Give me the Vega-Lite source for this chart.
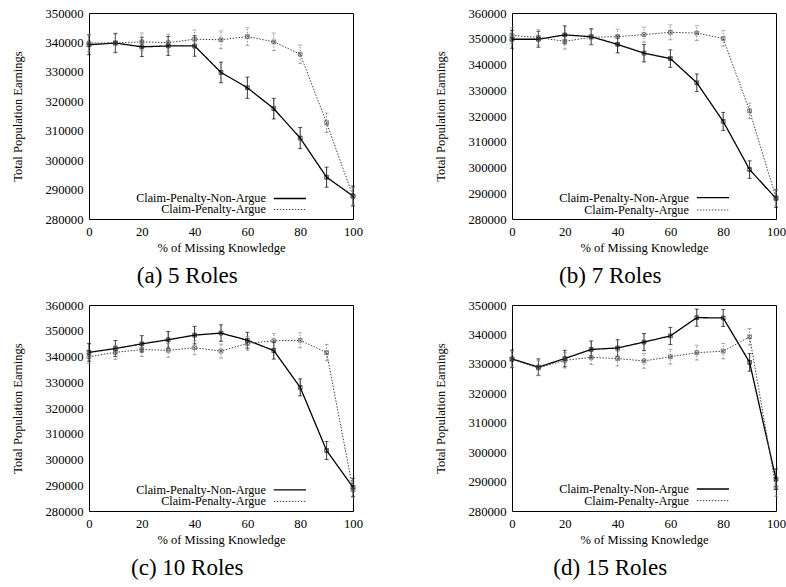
{
  "$schema": "https://vega.github.io/schema/vega-lite/v6.json",
  "padding": {"left": 11, "top": 6, "right": 0, "bottom": 0},
  "background": "white",
  "columns": 2,
  "spacing": {"row": 9, "column": 70},
  "datasets": {
    "a": [
      {"x":0,"y":339200,"lo":335800,"hi":342600,"s":"Non-Argue"},
      {"x":10,"y":339800,"lo":336500,"hi":343100,"s":"Non-Argue"},
      {"x":20,"y":338500,"lo":335200,"hi":341800,"s":"Non-Argue"},
      {"x":30,"y":338800,"lo":335600,"hi":342000,"s":"Non-Argue"},
      {"x":40,"y":338800,"lo":335300,"hi":342300,"s":"Non-Argue"},
      {"x":50,"y":329800,"lo":326300,"hi":333300,"s":"Non-Argue"},
      {"x":60,"y":324600,"lo":321000,"hi":328200,"s":"Non-Argue"},
      {"x":70,"y":317500,"lo":314000,"hi":321000,"s":"Non-Argue"},
      {"x":80,"y":307500,"lo":303900,"hi":311100,"s":"Non-Argue"},
      {"x":90,"y":294200,"lo":290800,"hi":297600,"s":"Non-Argue"},
      {"x":100,"y":287800,"lo":284400,"hi":291200,"s":"Non-Argue"},
      {"x":0,"y":339800,"lo":336900,"hi":342700,"s":"Argue"},
      {"x":10,"y":339800,"lo":336800,"hi":342800,"s":"Argue"},
      {"x":20,"y":340200,"lo":337200,"hi":343200,"s":"Argue"},
      {"x":30,"y":339900,"lo":337000,"hi":342800,"s":"Argue"},
      {"x":40,"y":341100,"lo":338000,"hi":344200,"s":"Argue"},
      {"x":50,"y":340900,"lo":337900,"hi":343900,"s":"Argue"},
      {"x":60,"y":342000,"lo":339000,"hi":345000,"s":"Argue"},
      {"x":70,"y":340200,"lo":337200,"hi":343200,"s":"Argue"},
      {"x":80,"y":336000,"lo":332900,"hi":339100,"s":"Argue"},
      {"x":90,"y":312700,"lo":309400,"hi":316000,"s":"Argue"},
      {"x":100,"y":287700,"lo":284800,"hi":290600,"s":"Argue"}
    ],
    "b": [
      {"x":0,"y":349800,"lo":346300,"hi":353300,"s":"Non-Argue"},
      {"x":10,"y":349800,"lo":346700,"hi":352900,"s":"Non-Argue"},
      {"x":20,"y":351500,"lo":348000,"hi":355000,"s":"Non-Argue"},
      {"x":30,"y":350800,"lo":347700,"hi":353900,"s":"Non-Argue"},
      {"x":40,"y":347800,"lo":344500,"hi":351100,"s":"Non-Argue"},
      {"x":50,"y":344400,"lo":341000,"hi":347800,"s":"Non-Argue"},
      {"x":60,"y":342300,"lo":338900,"hi":345700,"s":"Non-Argue"},
      {"x":70,"y":332900,"lo":329500,"hi":336300,"s":"Non-Argue"},
      {"x":80,"y":317900,"lo":314400,"hi":321400,"s":"Non-Argue"},
      {"x":90,"y":299200,"lo":295800,"hi":302600,"s":"Non-Argue"},
      {"x":100,"y":288000,"lo":284500,"hi":291500,"s":"Non-Argue"},
      {"x":0,"y":351300,"lo":348300,"hi":354300,"s":"Argue"},
      {"x":10,"y":350500,"lo":347500,"hi":353500,"s":"Argue"},
      {"x":20,"y":349000,"lo":346000,"hi":352000,"s":"Argue"},
      {"x":30,"y":350600,"lo":347700,"hi":353500,"s":"Argue"},
      {"x":40,"y":350800,"lo":347900,"hi":353700,"s":"Argue"},
      {"x":50,"y":351600,"lo":348700,"hi":354500,"s":"Argue"},
      {"x":60,"y":352500,"lo":349600,"hi":355400,"s":"Argue"},
      {"x":70,"y":352200,"lo":349300,"hi":355100,"s":"Argue"},
      {"x":80,"y":350100,"lo":347100,"hi":353100,"s":"Argue"},
      {"x":90,"y":322000,"lo":319000,"hi":325000,"s":"Argue"},
      {"x":100,"y":288300,"lo":285300,"hi":291300,"s":"Argue"}
    ],
    "c": [
      {"x":0,"y":341600,"lo":338200,"hi":345000,"s":"Non-Argue"},
      {"x":10,"y":343100,"lo":340000,"hi":346200,"s":"Non-Argue"},
      {"x":20,"y":344900,"lo":341700,"hi":348100,"s":"Non-Argue"},
      {"x":30,"y":346500,"lo":343300,"hi":349700,"s":"Non-Argue"},
      {"x":40,"y":348300,"lo":344900,"hi":351700,"s":"Non-Argue"},
      {"x":50,"y":349100,"lo":345900,"hi":352300,"s":"Non-Argue"},
      {"x":60,"y":346300,"lo":343200,"hi":349400,"s":"Non-Argue"},
      {"x":70,"y":342300,"lo":339000,"hi":345600,"s":"Non-Argue"},
      {"x":80,"y":328000,"lo":324700,"hi":331300,"s":"Non-Argue"},
      {"x":90,"y":303500,"lo":300000,"hi":307000,"s":"Non-Argue"},
      {"x":100,"y":289200,"lo":285700,"hi":292700,"s":"Non-Argue"},
      {"x":0,"y":339900,"lo":337300,"hi":342500,"s":"Argue"},
      {"x":10,"y":341600,"lo":338900,"hi":344300,"s":"Argue"},
      {"x":20,"y":342700,"lo":340000,"hi":345400,"s":"Argue"},
      {"x":30,"y":342400,"lo":339700,"hi":345100,"s":"Argue"},
      {"x":40,"y":343400,"lo":340700,"hi":346100,"s":"Argue"},
      {"x":50,"y":342100,"lo":339400,"hi":344800,"s":"Argue"},
      {"x":60,"y":345100,"lo":342400,"hi":347800,"s":"Argue"},
      {"x":70,"y":346100,"lo":343300,"hi":348900,"s":"Argue"},
      {"x":80,"y":346300,"lo":343400,"hi":349200,"s":"Argue"},
      {"x":90,"y":341500,"lo":338300,"hi":344700,"s":"Argue"},
      {"x":100,"y":288300,"lo":285300,"hi":291300,"s":"Argue"}
    ],
    "d": [
      {"x":0,"y":331700,"lo":328700,"hi":334700,"s":"Non-Argue"},
      {"x":10,"y":328900,"lo":326100,"hi":331700,"s":"Non-Argue"},
      {"x":20,"y":331800,"lo":329000,"hi":334600,"s":"Non-Argue"},
      {"x":30,"y":334900,"lo":332000,"hi":337800,"s":"Non-Argue"},
      {"x":40,"y":335400,"lo":332600,"hi":338200,"s":"Non-Argue"},
      {"x":50,"y":337400,"lo":334500,"hi":340300,"s":"Non-Argue"},
      {"x":60,"y":339500,"lo":336600,"hi":342400,"s":"Non-Argue"},
      {"x":70,"y":345700,"lo":342800,"hi":348600,"s":"Non-Argue"},
      {"x":80,"y":345600,"lo":342700,"hi":348500,"s":"Non-Argue"},
      {"x":90,"y":330500,"lo":327500,"hi":333500,"s":"Non-Argue"},
      {"x":100,"y":290800,"lo":287300,"hi":294300,"s":"Non-Argue"},
      {"x":0,"y":331500,"lo":328900,"hi":334100,"s":"Argue"},
      {"x":10,"y":328600,"lo":326000,"hi":331200,"s":"Argue"},
      {"x":20,"y":331200,"lo":328600,"hi":333800,"s":"Argue"},
      {"x":30,"y":332200,"lo":329800,"hi":334600,"s":"Argue"},
      {"x":40,"y":331800,"lo":329300,"hi":334300,"s":"Argue"},
      {"x":50,"y":331000,"lo":328500,"hi":333500,"s":"Argue"},
      {"x":60,"y":332400,"lo":329900,"hi":334900,"s":"Argue"},
      {"x":70,"y":333800,"lo":331300,"hi":336300,"s":"Argue"},
      {"x":80,"y":334300,"lo":331700,"hi":336900,"s":"Argue"},
      {"x":90,"y":339200,"lo":336400,"hi":342000,"s":"Argue"},
      {"x":100,"y":287900,"lo":285000,"hi":290800,"s":"Argue"}
    ]
  },
  "concat": [
    {
      "width": 264, "height": 206,
      "title": {"text": "(a) 5 Roles", "orient": "bottom", "anchor": "middle", "frame": "bounds", "offset": 11},
      "encoding": {
        "x": {"type": "quantitative", "scale": {"domain": [0, 100], "nice": false}, "axis": {"title": "% of Missing Knowledge", "values": [0,20,40,60,80,100], "labelFlush": false}},
        "y": {"type": "quantitative", "scale": {"domain": [280000, 350000], "nice": false, "zero": false}, "axis": {"title": "Total Population Earnings", "values": [280000,290000,300000,310000,320000,330000,340000,350000], "format": "d"}}
      },
      "layer": [
        {"data": {"values": [{}]}, "mark": {"type": "rect", "fill": "white"}, "encoding": {"x": {"datum": 3.4}, "x2": {"datum": 85}, "y": {"datum": 280300}, "y2": {"datum": 289400}}},
        {"data": {"values": [{}]}, "mark": {"type": "text", "align": "right", "baseline": "middle", "fontSize": 12.2, "font": "Liberation Serif, Times New Roman, Times, serif", "color": "black", "text": "Claim-Penalty-Non-Argue"}, "encoding": {"x": {"datum": 67}, "y": {"datum": 286970}}},
        {"data": {"values": [{}]}, "mark": {"type": "text", "align": "right", "baseline": "middle", "fontSize": 12.2, "font": "Liberation Serif, Times New Roman, Times, serif", "color": "black", "text": "Claim-Penalty-Argue"}, "encoding": {"x": {"datum": 67}, "y": {"datum": 283230}}},
        {"data": {"values": [{}]}, "mark": {"type": "rule", "color": "black", "strokeWidth": 1.3}, "encoding": {"x": {"datum": 70}, "x2": {"datum": 82.2}, "y": {"datum": 286970}}},
        {"data": {"values": [{}]}, "mark": {"type": "rule", "color": "#444", "strokeWidth": 1, "strokeDash": [1.5, 1.5]}, "encoding": {"x": {"datum": 70}, "x2": {"datum": 82.2}, "y": {"datum": 283230}}},
        {"data": {"name": "a"}, "layer": [
          {"mark": {"type": "rule", "strokeWidth": 1}, "encoding": {"x": {"field": "x"}, "y": {"field": "lo"}, "y2": {"field": "hi"}, "color": {"field": "s", "type": "nominal", "scale": {"domain": ["Non-Argue", "Argue"], "range": ["#111111", "#888888"]}, "legend": null}, "strokeDash": {"field": "s", "type": "nominal", "scale": {"domain": ["Non-Argue", "Argue"], "range": [[1, 0], [1.5, 1.5]]}, "legend": null}}},
          {"mark": {"type": "tick", "orient": "horizontal", "size": 4, "thickness": 1}, "encoding": {"x": {"field": "x"}, "y": {"field": "lo"}, "color": {"field": "s", "type": "nominal", "legend": null}}},
          {"mark": {"type": "tick", "orient": "horizontal", "size": 4, "thickness": 1}, "encoding": {"x": {"field": "x"}, "y": {"field": "hi"}, "color": {"field": "s", "type": "nominal", "legend": null}}},
          {"mark": {"type": "line"}, "encoding": {"x": {"field": "x"}, "y": {"field": "y"}, "detail": {"field": "s"}, "strokeDash": {"field": "s", "type": "nominal", "legend": null}, "strokeWidth": {"field": "s", "type": "nominal", "scale": {"domain": ["Non-Argue", "Argue"], "range": [1.3, 1]}, "legend": null}, "stroke": {"field": "s", "type": "nominal", "scale": {"domain": ["Non-Argue", "Argue"], "range": ["#000000", "#444444"]}, "legend": null}}},
          {"mark": {"type": "point", "shape": "M-1,-1H1V1H-1ZM-1,-1L1,1M-1,1L1,-1", "size": 14, "strokeWidth": 0.9, "filled": false}, "encoding": {"x": {"field": "x"}, "y": {"field": "y"}, "stroke": {"field": "s", "type": "nominal", "legend": null}}}
        ]}
      ]
    },
    {
      "width": 264, "height": 206,
      "title": {"text": "(b) 7 Roles", "orient": "bottom", "anchor": "middle", "frame": "bounds", "offset": 11},
      "encoding": {
        "x": {"type": "quantitative", "scale": {"domain": [0, 100], "nice": false}, "axis": {"title": "% of Missing Knowledge", "values": [0,20,40,60,80,100], "labelFlush": false}},
        "y": {"type": "quantitative", "scale": {"domain": [280000, 360000], "nice": false, "zero": false}, "axis": {"title": "Total Population Earnings", "values": [280000,290000,300000,310000,320000,330000,340000,350000,360000], "format": "d"}}
      },
      "layer": [
        {"data": {"values": [{}]}, "mark": {"type": "rect", "fill": "white"}, "encoding": {"x": {"datum": 3.4}, "x2": {"datum": 85}, "y": {"datum": 280350}, "y2": {"datum": 290700}}},
        {"data": {"values": [{}]}, "mark": {"type": "text", "align": "right", "baseline": "middle", "fontSize": 12.2, "font": "Liberation Serif, Times New Roman, Times, serif", "color": "black", "text": "Claim-Penalty-Non-Argue"}, "encoding": {"x": {"datum": 67}, "y": {"datum": 288280}}},
        {"data": {"values": [{}]}, "mark": {"type": "text", "align": "right", "baseline": "middle", "fontSize": 12.2, "font": "Liberation Serif, Times New Roman, Times, serif", "color": "black", "text": "Claim-Penalty-Argue"}, "encoding": {"x": {"datum": 67}, "y": {"datum": 283500}}},
        {"data": {"values": [{}]}, "mark": {"type": "rule", "color": "black", "strokeWidth": 1.3}, "encoding": {"x": {"datum": 70}, "x2": {"datum": 82.2}, "y": {"datum": 288280}}},
        {"data": {"values": [{}]}, "mark": {"type": "rule", "color": "#444", "strokeWidth": 1, "strokeDash": [1.5, 1.5]}, "encoding": {"x": {"datum": 70}, "x2": {"datum": 82.2}, "y": {"datum": 283500}}},
        {"data": {"name": "b"}, "layer": [
          {"mark": {"type": "rule", "strokeWidth": 1}, "encoding": {"x": {"field": "x"}, "y": {"field": "lo"}, "y2": {"field": "hi"}, "color": {"field": "s", "type": "nominal", "scale": {"domain": ["Non-Argue", "Argue"], "range": ["#111111", "#888888"]}, "legend": null}, "strokeDash": {"field": "s", "type": "nominal", "scale": {"domain": ["Non-Argue", "Argue"], "range": [[1, 0], [1.5, 1.5]]}, "legend": null}}},
          {"mark": {"type": "tick", "orient": "horizontal", "size": 4, "thickness": 1}, "encoding": {"x": {"field": "x"}, "y": {"field": "lo"}, "color": {"field": "s", "type": "nominal", "legend": null}}},
          {"mark": {"type": "tick", "orient": "horizontal", "size": 4, "thickness": 1}, "encoding": {"x": {"field": "x"}, "y": {"field": "hi"}, "color": {"field": "s", "type": "nominal", "legend": null}}},
          {"mark": {"type": "line"}, "encoding": {"x": {"field": "x"}, "y": {"field": "y"}, "detail": {"field": "s"}, "strokeDash": {"field": "s", "type": "nominal", "legend": null}, "strokeWidth": {"field": "s", "type": "nominal", "scale": {"domain": ["Non-Argue", "Argue"], "range": [1.3, 1]}, "legend": null}, "stroke": {"field": "s", "type": "nominal", "scale": {"domain": ["Non-Argue", "Argue"], "range": ["#000000", "#444444"]}, "legend": null}}},
          {"mark": {"type": "point", "shape": "M-1,-1H1V1H-1ZM-1,-1L1,1M-1,1L1,-1", "size": 14, "strokeWidth": 0.9, "filled": false}, "encoding": {"x": {"field": "x"}, "y": {"field": "y"}, "stroke": {"field": "s", "type": "nominal", "legend": null}}}
        ]}
      ]
    },
    {
      "width": 264, "height": 206,
      "title": {"text": "(c) 10 Roles", "orient": "bottom", "anchor": "middle", "frame": "bounds", "offset": 11},
      "encoding": {
        "x": {"type": "quantitative", "scale": {"domain": [0, 100], "nice": false}, "axis": {"title": "% of Missing Knowledge", "values": [0,20,40,60,80,100], "labelFlush": false}},
        "y": {"type": "quantitative", "scale": {"domain": [280000, 360000], "nice": false, "zero": false}, "axis": {"title": "Total Population Earnings", "values": [280000,290000,300000,310000,320000,330000,340000,350000,360000], "format": "d"}}
      },
      "layer": [
        {"data": {"values": [{}]}, "mark": {"type": "rect", "fill": "white"}, "encoding": {"x": {"datum": 3.4}, "x2": {"datum": 85}, "y": {"datum": 280350}, "y2": {"datum": 290900}}},
        {"data": {"values": [{}]}, "mark": {"type": "text", "align": "right", "baseline": "middle", "fontSize": 12.2, "font": "Liberation Serif, Times New Roman, Times, serif", "color": "black", "text": "Claim-Penalty-Non-Argue"}, "encoding": {"x": {"datum": 67}, "y": {"datum": 288230}}},
        {"data": {"values": [{}]}, "mark": {"type": "text", "align": "right", "baseline": "middle", "fontSize": 12.2, "font": "Liberation Serif, Times New Roman, Times, serif", "color": "black", "text": "Claim-Penalty-Argue"}, "encoding": {"x": {"datum": 67}, "y": {"datum": 283740}}},
        {"data": {"values": [{}]}, "mark": {"type": "rule", "color": "black", "strokeWidth": 1.3}, "encoding": {"x": {"datum": 70}, "x2": {"datum": 82.2}, "y": {"datum": 288230}}},
        {"data": {"values": [{}]}, "mark": {"type": "rule", "color": "#444", "strokeWidth": 1, "strokeDash": [1.5, 1.5]}, "encoding": {"x": {"datum": 70}, "x2": {"datum": 82.2}, "y": {"datum": 283740}}},
        {"data": {"name": "c"}, "layer": [
          {"mark": {"type": "rule", "strokeWidth": 1}, "encoding": {"x": {"field": "x"}, "y": {"field": "lo"}, "y2": {"field": "hi"}, "color": {"field": "s", "type": "nominal", "scale": {"domain": ["Non-Argue", "Argue"], "range": ["#111111", "#888888"]}, "legend": null}, "strokeDash": {"field": "s", "type": "nominal", "scale": {"domain": ["Non-Argue", "Argue"], "range": [[1, 0], [1.5, 1.5]]}, "legend": null}}},
          {"mark": {"type": "tick", "orient": "horizontal", "size": 4, "thickness": 1}, "encoding": {"x": {"field": "x"}, "y": {"field": "lo"}, "color": {"field": "s", "type": "nominal", "legend": null}}},
          {"mark": {"type": "tick", "orient": "horizontal", "size": 4, "thickness": 1}, "encoding": {"x": {"field": "x"}, "y": {"field": "hi"}, "color": {"field": "s", "type": "nominal", "legend": null}}},
          {"mark": {"type": "line"}, "encoding": {"x": {"field": "x"}, "y": {"field": "y"}, "detail": {"field": "s"}, "strokeDash": {"field": "s", "type": "nominal", "legend": null}, "strokeWidth": {"field": "s", "type": "nominal", "scale": {"domain": ["Non-Argue", "Argue"], "range": [1.3, 1]}, "legend": null}, "stroke": {"field": "s", "type": "nominal", "scale": {"domain": ["Non-Argue", "Argue"], "range": ["#000000", "#444444"]}, "legend": null}}},
          {"mark": {"type": "point", "shape": "M-1,-1H1V1H-1ZM-1,-1L1,1M-1,1L1,-1", "size": 14, "strokeWidth": 0.9, "filled": false}, "encoding": {"x": {"field": "x"}, "y": {"field": "y"}, "stroke": {"field": "s", "type": "nominal", "legend": null}}}
        ]}
      ]
    },
    {
      "width": 264, "height": 206,
      "title": {"text": "(d) 15 Roles", "orient": "bottom", "anchor": "middle", "frame": "bounds", "offset": 11},
      "encoding": {
        "x": {"type": "quantitative", "scale": {"domain": [0, 100], "nice": false}, "axis": {"title": "% of Missing Knowledge", "values": [0,20,40,60,80,100], "labelFlush": false}},
        "y": {"type": "quantitative", "scale": {"domain": [280000, 350000], "nice": false, "zero": false}, "axis": {"title": "Total Population Earnings", "values": [280000,290000,300000,310000,320000,330000,340000,350000], "format": "d"}}
      },
      "layer": [
        {"data": {"values": [{}]}, "mark": {"type": "rect", "fill": "white"}, "encoding": {"x": {"datum": 3.4}, "x2": {"datum": 85}, "y": {"datum": 280300}, "y2": {"datum": 288800}}},
        {"data": {"values": [{}]}, "mark": {"type": "text", "align": "right", "baseline": "middle", "fontSize": 12.2, "font": "Liberation Serif, Times New Roman, Times, serif", "color": "black", "text": "Claim-Penalty-Non-Argue"}, "encoding": {"x": {"datum": 67}, "y": {"datum": 287480}}},
        {"data": {"values": [{}]}, "mark": {"type": "text", "align": "right", "baseline": "middle", "fontSize": 12.2, "font": "Liberation Serif, Times New Roman, Times, serif", "color": "black", "text": "Claim-Penalty-Argue"}, "encoding": {"x": {"datum": 67}, "y": {"datum": 283520}}},
        {"data": {"values": [{}]}, "mark": {"type": "rule", "color": "black", "strokeWidth": 1.3}, "encoding": {"x": {"datum": 70}, "x2": {"datum": 82.2}, "y": {"datum": 287480}}},
        {"data": {"values": [{}]}, "mark": {"type": "rule", "color": "#444", "strokeWidth": 1, "strokeDash": [1.5, 1.5]}, "encoding": {"x": {"datum": 70}, "x2": {"datum": 82.2}, "y": {"datum": 283520}}},
        {"data": {"name": "d"}, "layer": [
          {"mark": {"type": "rule", "strokeWidth": 1}, "encoding": {"x": {"field": "x"}, "y": {"field": "lo"}, "y2": {"field": "hi"}, "color": {"field": "s", "type": "nominal", "scale": {"domain": ["Non-Argue", "Argue"], "range": ["#111111", "#888888"]}, "legend": null}, "strokeDash": {"field": "s", "type": "nominal", "scale": {"domain": ["Non-Argue", "Argue"], "range": [[1, 0], [1.5, 1.5]]}, "legend": null}}},
          {"mark": {"type": "tick", "orient": "horizontal", "size": 4, "thickness": 1}, "encoding": {"x": {"field": "x"}, "y": {"field": "lo"}, "color": {"field": "s", "type": "nominal", "legend": null}}},
          {"mark": {"type": "tick", "orient": "horizontal", "size": 4, "thickness": 1}, "encoding": {"x": {"field": "x"}, "y": {"field": "hi"}, "color": {"field": "s", "type": "nominal", "legend": null}}},
          {"mark": {"type": "line"}, "encoding": {"x": {"field": "x"}, "y": {"field": "y"}, "detail": {"field": "s"}, "strokeDash": {"field": "s", "type": "nominal", "legend": null}, "strokeWidth": {"field": "s", "type": "nominal", "scale": {"domain": ["Non-Argue", "Argue"], "range": [1.3, 1]}, "legend": null}, "stroke": {"field": "s", "type": "nominal", "scale": {"domain": ["Non-Argue", "Argue"], "range": ["#000000", "#444444"]}, "legend": null}}},
          {"mark": {"type": "point", "shape": "M-1,-1H1V1H-1ZM-1,-1L1,1M-1,1L1,-1", "size": 14, "strokeWidth": 0.9, "filled": false}, "encoding": {"x": {"field": "x"}, "y": {"field": "y"}, "stroke": {"field": "s", "type": "nominal", "legend": null}}}
        ]}
      ]
    }
  ],
  "config": {
    "font": "Liberation Serif, Times New Roman, Times, serif",
    "view": {"stroke": "black", "strokeWidth": 1},
    "axis": {"labelFont": "Liberation Serif, Times New Roman, Times, serif", "labelFontSize": 12.7, "labelColor": "black", "titleFont": "Liberation Serif, Times New Roman, Times, serif", "titleFontSize": 12.5, "titleFontWeight": "normal", "titleColor": "black", "ticks": false, "domain": false, "gridColor": "#a0a0a0", "gridDash": [2, 2], "gridWidth": 1, "labelPadding": 6},
    "axisX": {"titlePadding": 4},
    "axisY": {"titlePadding": 20},
    "title": {"font": "Liberation Serif, Times New Roman, Times, serif", "fontSize": 23, "fontWeight": "normal", "color": "black"}
  }
}
